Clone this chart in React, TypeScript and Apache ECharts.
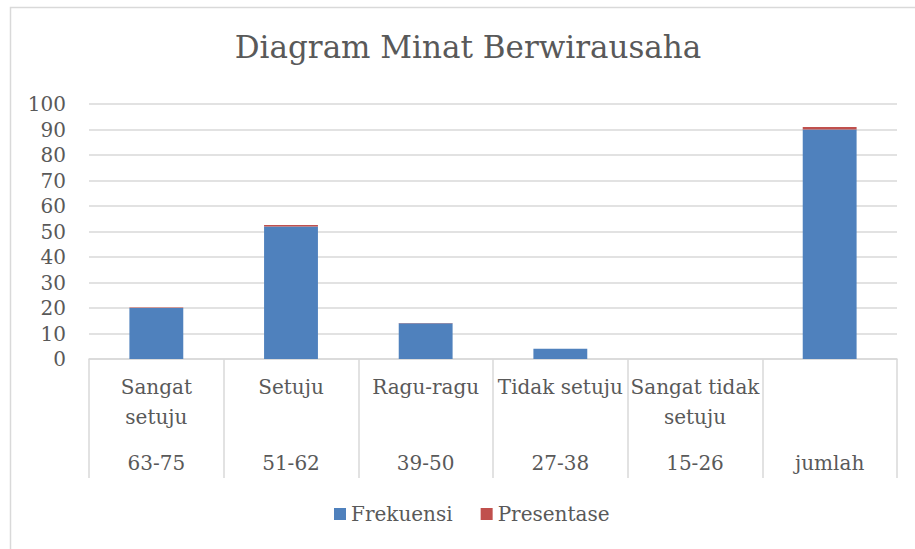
import React, { useEffect, useRef } from "react";
import * as echarts from "echarts";

const titleText = "Diagram Minat Berwirausaha";
const categories = ["Sangat\nsetuju", "Setuju", "Ragu-ragu", "Tidak setuju", "Sangat tidak\nsetuju", ""];
const ranges = ["63-75", "51-62", "39-50", "27-38", "15-26", "jumlah"];
const frekuensi = [20, 52, 14, 4, 0, 90];
const presentase = [0.22, 0.58, 0.16, 0.04, 0, 1];
const seriesNames = ["Frekuensi", "Presentase"];

const FONT = "DejaVu Serif";
const TXT = "#595959";
const GRID = "#d9d9d9";
const FS = 20;

export default function App() {
  const ref = useRef<HTMLDivElement>(null);
  useEffect(() => {
    const chart = echarts.init(ref.current!, undefined, { renderer: "svg" });
    chart.setOption({
      animation: false,
      textStyle: { fontFamily: FONT },
      graphic: [
        {
          type: "rect",
          shape: { x: 10.5, y: 7.5, width: 1000, height: 1000 },
          style: { fill: "none", stroke: GRID, lineWidth: 1.5 },
          silent: true,
        },
        {
          type: "text",
          x: 468,
          y: 31,
          style: {
            text: titleText,
            fill: TXT,
            font: `31px "${FONT}"`,
            textAlign: "center",
            textVerticalAlign: "top",
          },
        },
      ],
      legend: {
        bottom: 20,
        left: 329,
        icon: "rect",
        itemWidth: 12,
        itemHeight: 12,
        itemGap: 28,
        itemTextGap: 6,
        textStyle: { fontSize: FS, color: TXT, fontFamily: FONT },
        data: seriesNames,
      },
      grid: { left: 89, right: 18, top: 104, bottom: 190, containLabel: false },
      xAxis: [
        {
          type: "category",
          data: categories,
          axisLine: { lineStyle: { color: GRID, width: 1.5 } },
          axisTick: { show: true, interval: 0, length: 119, lineStyle: { color: GRID, width: 1.5 } },
          axisLabel: { interval: 0, margin: 13, color: TXT, fontSize: FS, lineHeight: 30, fontFamily: FONT },
        },
        {
          type: "category",
          position: "bottom",
          data: ranges,
          axisLine: { show: false },
          axisTick: { show: false },
          axisLabel: { interval: 0, margin: 89, color: TXT, fontSize: FS, lineHeight: 30, fontFamily: FONT },
        },
      ],
      yAxis: {
        type: "value",
        min: 0,
        max: 100,
        interval: 10,
        axisLine: { show: false },
        axisTick: { show: false },
        splitLine: { lineStyle: { color: GRID, width: 1.5 } },
        axisLabel: { margin: 23, color: TXT, fontSize: FS, fontFamily: FONT },
      },
      series: [
        {
          name: seriesNames[0],
          type: "bar",
          stack: "total",
          barWidth: "40%",
          data: frekuensi,
          itemStyle: { color: "#4f81bd" },
        },
        {
          name: seriesNames[1],
          type: "bar",
          stack: "total",
          barWidth: "40%",
          data: presentase,
          itemStyle: { color: "#c0504d" },
        },
      ],
    });
    return () => chart.dispose();
  }, []);
  return (
    <div
      ref={ref}
      style={{ position: "fixed", left: 0, top: 0, width: 915, height: 549, background: "#fff" }}
    />
  );
}
